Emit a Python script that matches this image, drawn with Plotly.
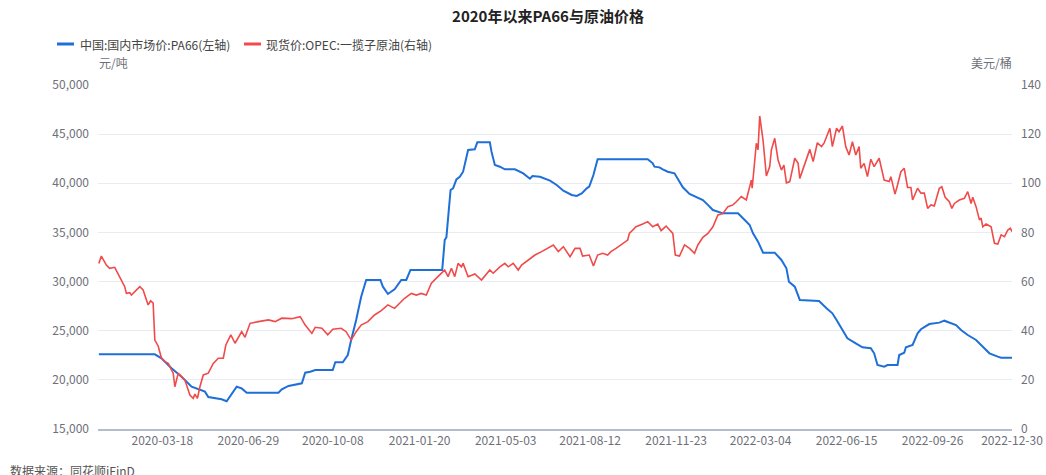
import plotly.graph_objects as go

# ---------------- data ----------------
pa66_dates = ["2020-01-02","2020-03-09","2020-03-17","2020-03-29","2020-04-10","2020-04-22","2020-05-08","2020-05-12","2020-05-28","2020-06-03",
 "2020-06-15","2020-06-21","2020-06-27","2020-08-04","2020-08-08","2020-08-16","2020-09-01","2020-09-05","2020-09-11","2020-09-17",
 "2020-10-08","2020-10-11","2020-10-20","2020-10-26","2020-10-30","2020-11-05","2020-11-11","2020-11-17","2020-12-04","2020-12-07",
 "2020-12-13","2020-12-21","2020-12-29","2021-01-04","2021-01-09","2021-02-16","2021-02-19","2021-02-21","2021-02-26","2021-03-01",
 "2021-03-05","2021-03-09","2021-03-13","2021-03-19","2021-03-27","2021-03-30","2021-04-14","2021-04-16","2021-04-20","2021-04-26",
 "2021-05-02","2021-05-14","2021-05-24","2021-05-30","2021-06-01","2021-06-04","2021-06-13","2021-06-25","2021-07-03","2021-07-11",
 "2021-07-21","2021-07-27","2021-08-02","2021-08-08","2021-08-11","2021-08-16","2021-08-21","2021-10-20","2021-10-26","2021-10-28",
 "2021-11-03","2021-11-07","2021-11-13","2021-11-21","2021-11-26","2021-12-01","2021-12-09","2021-12-17","2021-12-25","2021-12-31",
 "2022-01-06","2022-01-18","2022-02-05","2022-02-11","2022-02-19","2022-02-23","2022-03-01","2022-03-07","2022-03-21","2022-03-29",
 "2022-04-04","2022-04-07","2022-04-14","2022-04-20","2022-05-13","2022-05-22","2022-05-29","2022-06-03","2022-06-08","2022-06-16",
 "2022-06-26","2022-07-04","2022-07-14","2022-07-18","2022-07-22","2022-07-30","2022-08-03","2022-08-15","2022-08-17","2022-08-23",
 "2022-08-25","2022-09-02","2022-09-08","2022-09-12","2022-09-22","2022-10-04","2022-10-10","2022-10-16","2022-10-24","2022-10-30",
 "2022-11-07","2022-11-17","2022-11-25","2022-12-03","2022-12-13","2022-12-17","2022-12-30"]
pa66_values = [22600,22600,22190,21180,20320,19300,18800,18250,18020,17820,
 19300,19130,18690,18690,19040,19380,19650,20730,20830,21000,
 21000,21790,21790,22530,24060,26090,28460,30160,30160,29480,
 28740,29210,30160,30160,31180,31180,34230,34500,39320,39490,
 40400,40670,41180,43390,43460,44170,44170,43220,41860,41690,
 41420,41420,41010,40670,40470,40740,40670,40270,39830,39250,
 38810,38710,38970,39490,39660,40840,42440,42440,42030,41690,
 41620,41420,41180,41010,40340,39590,38910,38640,38300,37800,
 37280,36940,36940,36440,35760,34910,34060,32940,32940,32200,
 31350,29990,29480,28130,28020,27280,26770,26090,25410,24230,
 23720,23310,23210,22700,21510,21340,21510,21510,22530,22760,
 23310,23550,24740,25150,25680,25820,26020,25820,25580,25070,
 24560,24060,23370,22700,22360,22250,22250]

opec_dates = ["2020-01-02","2020-01-05","2020-01-11","2020-01-15","2020-01-21","2020-01-27","2020-02-02","2020-02-04","2020-02-08","2020-02-10",
 "2020-02-14","2020-02-20","2020-02-24","2020-02-28","2020-03-01","2020-03-04","2020-03-07","2020-03-09","2020-03-13","2020-03-17",
 "2020-03-21","2020-03-25","2020-03-31","2020-04-02","2020-04-06","2020-04-10","2020-04-14","2020-04-20","2020-04-24","2020-04-26",
 "2020-04-29","2020-05-02","2020-05-06","2020-05-12","2020-05-18","2020-05-24","2020-05-30","2020-06-02","2020-06-08","2020-06-13",
 "2020-06-21","2020-06-25","2020-07-01","2020-07-11","2020-07-23","2020-07-31","2020-08-08","2020-08-20","2020-08-30","2020-09-05",
 "2020-09-13","2020-09-17","2020-09-25","2020-10-02","2020-10-08","2020-10-18","2020-10-24","2020-10-30","2020-11-05","2020-11-11",
 "2020-11-19","2020-11-27","2020-12-05","2020-12-13","2020-12-21","2021-01-02","2021-01-10","2021-01-16","2021-01-22","2021-01-28",
 "2021-02-03","2021-02-13","2021-02-19","2021-02-23","2021-02-27","2021-03-03","2021-03-07","2021-03-11","2021-03-13","2021-03-19",
 "2021-03-27","2021-04-04","2021-04-14","2021-04-18","2021-04-26","2021-05-02","2021-05-06","2021-05-12","2021-05-18","2021-05-22",
 "2021-06-01","2021-06-07","2021-06-15","2021-06-21","2021-06-29","2021-07-05","2021-07-11","2021-07-19","2021-07-25","2021-07-31",
 "2021-08-03","2021-08-11","2021-08-16","2021-08-21","2021-08-27","2021-09-02","2021-09-06","2021-09-12","2021-09-20","2021-09-26",
 "2021-09-28","2021-10-06","2021-10-14","2021-10-20","2021-10-26","2021-11-01","2021-11-05","2021-11-11","2021-11-19","2021-11-22",
 "2021-11-27","2021-12-03","2021-12-09","2021-12-15","2021-12-19","2021-12-25","2021-12-31","2022-01-06","2022-01-12","2022-01-18",
 "2022-01-24","2022-01-30","2022-02-03","2022-02-09","2022-02-15","2022-02-19","2022-02-21","2022-02-22","2022-02-25","2022-02-27",
 "2022-03-01","2022-03-03","2022-03-07","2022-03-11","2022-03-15","2022-03-17","2022-03-21","2022-03-25","2022-03-29","2022-04-01",
 "2022-04-04","2022-04-08","2022-04-14","2022-04-18","2022-04-20","2022-04-28","2022-05-02","2022-05-06","2022-05-11","2022-05-16",
 "2022-05-19","2022-05-26","2022-05-29","2022-06-03","2022-06-06","2022-06-10","2022-06-14","2022-06-18","2022-06-22","2022-06-26",
 "2022-06-30","2022-07-02","2022-07-06","2022-07-10","2022-07-14","2022-07-18","2022-07-24","2022-07-30","2022-08-05","2022-08-07",
 "2022-08-12","2022-08-15","2022-08-19","2022-08-23","2022-08-27","2022-08-31","2022-09-02","2022-09-08","2022-09-12","2022-09-16",
 "2022-09-20","2022-09-24","2022-09-28","2022-10-04","2022-10-07","2022-10-11","2022-10-16","2022-10-19","2022-10-22","2022-10-28",
 "2022-11-03","2022-11-07","2022-11-11","2022-11-13","2022-11-17","2022-11-21","2022-11-23","2022-11-25","2022-11-29","2022-12-05",
 "2022-12-09","2022-12-13","2022-12-17","2022-12-21","2022-12-25","2022-12-28","2022-12-30"]
opec_values = [67.4,70.4,66.7,65.4,65.8,62.0,57.9,55.2,55.5,54.5,
 55.9,57.9,56.6,52.5,50.5,52.2,51.2,36.2,33.8,28.8,
 27.4,26.7,22.7,17.2,22.7,21.3,19.9,13.8,12.5,14.2,
 12.5,17.2,22.0,22.7,26.7,28.8,28.8,34.2,38.3,34.9,
 39.6,37.3,43.0,43.7,44.4,43.7,45.1,44.9,45.7,42.3,
 38.9,41.4,41.0,38.3,40.6,41.0,39.6,36.2,39.6,42.3,
 43.7,46.4,48.2,50.5,49.1,53.2,55.2,54.5,55.2,54.5,
 59.3,62.7,64.7,62.0,65.4,62.0,67.4,66.0,67.4,62.0,
 63.1,60.6,64.7,63.4,66.0,67.4,66.0,67.4,64.7,66.7,
 69.5,70.8,72.2,73.5,74.9,72.2,74.2,70.1,73.5,73.5,
 70.4,70.8,66.3,70.8,71.5,70.8,72.2,73.5,75.6,76.9,
 79.6,82.3,83.4,84.4,82.3,83.4,80.7,82.6,79.6,70.8,
 70.4,74.9,73.5,71.5,74.9,78.0,79.6,82.3,87.1,87.7,
 90.5,91.2,92.5,94.6,93.2,98.6,101.3,98.0,109.5,116.3,
 113.6,127.4,117.6,103.0,106.8,113.6,118.3,109.5,105.4,107.4,
 100.2,100.7,110.2,108.1,102.0,109.5,113.8,108.8,116.5,114.9,
 116.3,122.4,114.9,122.4,121.0,123.3,114.9,111.5,116.9,111.5,
 114.9,106.1,108.1,102.7,109.8,106.8,110.2,101.3,100.7,102.7,
 95.6,99.3,104.7,106.1,98.3,98.3,93.2,98.0,96.0,96.0,
 89.8,91.2,90.8,98.0,98.6,94.3,92.5,89.8,91.8,93.2,
 93.9,96.6,91.8,94.3,90.5,85.1,85.8,82.3,83.4,82.3,
 75.6,75.3,79.0,78.3,81.0,81.7,80.3]

series_names = ["中国:国内市场价:PA66(左轴)", "现货价:OPEC:一揽子原油(右轴)"]
x_tick_labels = ["2020-03-18","2020-06-29","2020-10-08","2021-01-20","2021-05-03","2021-08-12",
                 "2021-11-23","2022-03-04","2022-06-15","2022-09-26","2022-12-30"]
left_ticks = [15000, 20000, 25000, 30000, 35000, 40000, 45000, 50000]
right_ticks = [0, 20, 40, 60, 80, 100, 120, 140]
title_text = "2020年以来PA66与原油价格"
left_unit = "元/吨"
right_unit = "美元/桶"
source_text = "数据来源：同花顺iFinD"

# ---------------- style ----------------
BLUE = "#1F6FD8"
RED = "#F04A4A"
TICK = "#6E7079"
FONT = "Noto Sans CJK SC, Noto Sans, sans-serif"
W, H = 1046, 475
L, R, T, B = 98, 1012, 85, 429

def px(x):
    return (x - L) / (R - L)

def py(y):
    return (B - y) / (B - T)

fig = go.Figure()
fig.add_trace(go.Scatter(x=pa66_dates, y=pa66_values, name=series_names[0], mode="lines",
                         line=dict(color=BLUE, width=2), yaxis="y"))
fig.add_trace(go.Scatter(x=opec_dates, y=opec_values, name=series_names[1], mode="lines",
                         line=dict(color=RED, width=1.6), yaxis="y2"))

fig.update_layout(
    width=W, height=H,
    margin=dict(l=L, r=W - R, t=T, b=H - B, pad=0, autoexpand=False),
    paper_bgcolor="white", plot_bgcolor="white",
    font=dict(family=FONT, size=12, color=TICK),
    showlegend=False,
    title=dict(text="<b>" + title_text + "</b>", x=548 / W, xref="container", xanchor="center",
               y=1 - 17 / H, yref="container", yanchor="middle",
               font=dict(family=FONT, size=15, color="#222222")),
    xaxis=dict(type="date", range=["2020-01-01", "2022-12-30"], automargin=False,
               tickmode="array", tickvals=x_tick_labels, ticktext=x_tick_labels,
               showgrid=False, zeroline=False, showline=True, linecolor="#B4BCCE", linewidth=2,
               ticks="", tickfont=dict(size=12, color=TICK), ticklabelstandoff=0),
    yaxis=dict(range=[15000, 50000], tickmode="array", tickvals=left_ticks, tickformat=",",
               automargin=False,
               showgrid=True, gridcolor="#E9ECF3", gridwidth=1, zeroline=False, showline=False,
               ticks="", tickfont=dict(size=12, color=TICK), ticklabelstandoff=8),
    yaxis2=dict(range=[0, 140], tickmode="array", tickvals=right_ticks, overlaying="y", side="right",
                automargin=False,
                showgrid=False, zeroline=False, showline=False, ticks="",
                tickfont=dict(size=12, color=TICK), ticklabelstandoff=8),
)

# legend (drawn manually to match the short line symbols)
leg_y = py(44)
shapes = [
    dict(type="line", xref="paper", yref="paper", x0=px(57), x1=px(74), y0=leg_y, y1=leg_y,
         line=dict(color=BLUE, width=3)),
    dict(type="line", xref="paper", yref="paper", x0=px(244), x1=px(261), y0=leg_y, y1=leg_y,
         line=dict(color=RED, width=3)),
]
annotations = [
    dict(text=series_names[0], xref="paper", yref="paper", x=px(78), y=leg_y, xanchor="left",
         yanchor="middle", showarrow=False, font=dict(size=12, color="#444444")),
    dict(text=series_names[1], xref="paper", yref="paper", x=px(264), y=leg_y, xanchor="left",
         yanchor="middle", showarrow=False, font=dict(size=12, color="#444444")),
    dict(text=left_unit, xref="paper", yref="paper", x=px(113), y=py(62), xanchor="center",
         yanchor="middle", showarrow=False, font=dict(size=12, color=TICK)),
    dict(text=right_unit, xref="paper", yref="paper", x=px(991), y=py(62), xanchor="center",
         yanchor="middle", showarrow=False, font=dict(size=12, color=TICK)),
    dict(text=source_text, xref="paper", yref="paper", x=px(8), y=py(470), xanchor="left",
         yanchor="middle", showarrow=False, font=dict(size=12, color="#555555")),
]
fig.update_layout(shapes=shapes, annotations=annotations)

fig.write_html("out.html",
               config={"displayModeBar": False},
               post_script="document.body.style.margin='0';document.body.style.overflow='hidden';")
